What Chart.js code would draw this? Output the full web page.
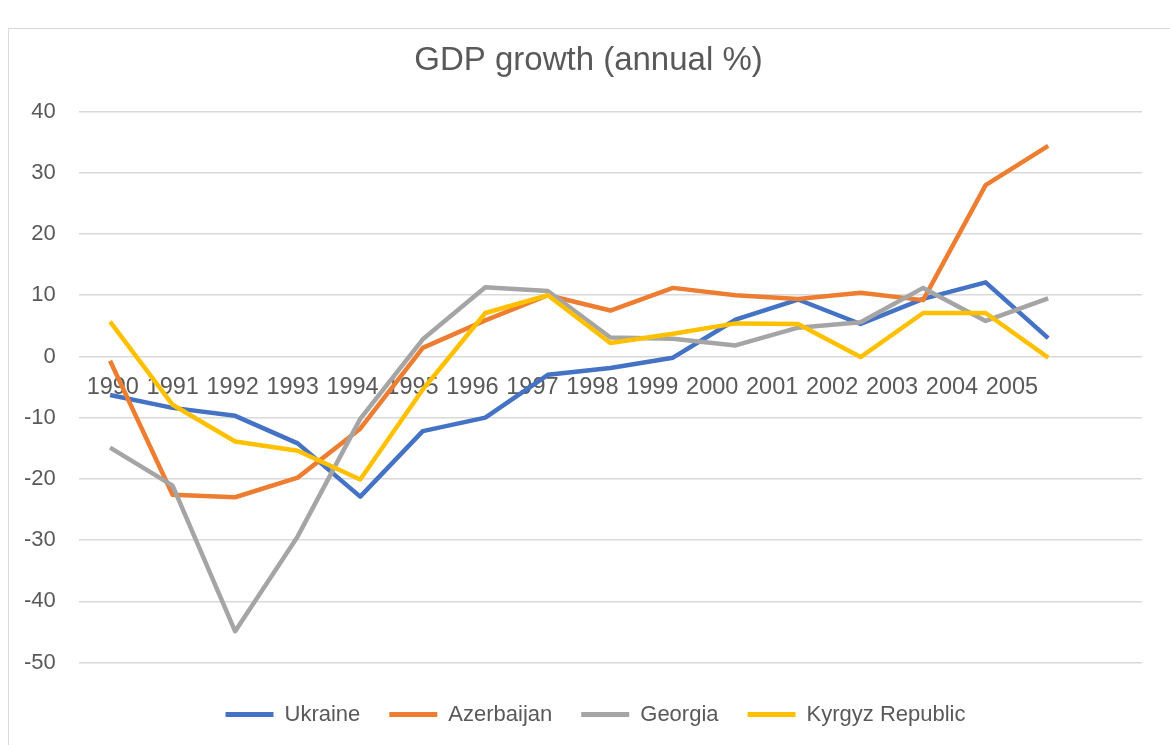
<!DOCTYPE html>
<html>
<head>
<meta charset="utf-8">
<script src="https://cdn.jsdelivr.net/npm/chart.js@4"></script>
<style>
    html, body { margin: 0; padding: 0; background: #fff; overflow: hidden; }
    #wrap { position: relative; width: 1170px; height: 745px; }
    #frame { position: absolute; left: 8px; top: 28px; width: 1200px; height: 800px; border: 1px solid #d9d9d9; }
    #chart { position: absolute; left: 0; top: 0; }
</style>
</head>
<body>
<div id="wrap">
    <div id="frame"></div>
    <canvas id="chart" width="1170" height="745"></canvas>
</div>
<script>
"use strict";

const years = ['1990', '1991', '1992', '1993', '1994', '1995', '1996', '1997',
    '1998', '1999', '2000', '2001', '2002', '2003', '2004', '2005'];
// the source chart keeps one blank category after 2005
const categories = [...years, ''];

const ukraine = [-6.3, -8.4, -9.7, -14.2, -22.9, -12.2, -10.0, -3.0, -1.9, -0.2, 6.0, 9.3, 5.3, 9.4, 12.1, 3.0];
const azerbaijan = [-0.7, -22.6, -23.0, -19.8, -11.8, 1.4, 5.9, 10.0, 7.5, 11.2, 10.0, 9.4, 10.4, 9.2, 28.0, 34.4];
const georgia = [-14.9, -21.1, -44.9, -29.4, -10.2, 2.8, 11.3, 10.7, 3.1, 2.9, 1.8, 4.7, 5.6, 11.2, 5.8, 9.5];
const kyrgyz = [5.7, -7.9, -13.9, -15.4, -20.1, -5.4, 7.1, 10.0, 2.2, 3.7, 5.4, 5.3, -0.1, 7.1, 7.1, -0.2];

const yTicks = [40, 30, 20, 10, 0, -10, -20, -30, -40, -50];

const textColor = '#595959';
const fontFamily = 'Liberation Sans, Arial, sans-serif';

const makeSeries = (label, data, color, order) => ({
    label: label,
    data: data,
    borderColor: color,
    backgroundColor: color,
    borderWidth: 4.5,
    pointRadius: 0,
    pointHoverRadius: 0,
    tension: 0,
    borderJoinStyle: 'round',
    order: order
});

/* the original centres its title and legend a bit right of the canvas middle */
const nudgeBlocks = {
    id: 'nudgeBlocks',
    afterLayout: (chart) => {
        if (chart.titleBlock) chart.titleBlock.left += 34;
        if (chart.legend) chart.legend.left += 48;
    }
};

const ctx = document.getElementById('chart').getContext('2d');
new Chart(ctx, {
    type: 'line',
    data: {
        labels: categories,
        datasets: [
            makeSeries('Ukraine', ukraine, '#4472C4', 3),
            makeSeries('Azerbaijan', azerbaijan, '#ED7D31', 2),
            makeSeries('Georgia', georgia, '#A5A5A5', 1),
            makeSeries('Kyrgyz Republic', kyrgyz, '#FFC000', 0)
        ]
    },
    plugins: [nudgeBlocks],
    options: {
        responsive: false,
        devicePixelRatio: 1,
        animation: false,
        layout: {
            padding: { top: 41, left: 1, right: 28, bottom: 9.5 }
        },
        plugins: {
            title: {
                display: true,
                text: 'GDP growth (annual %)',
                color: textColor,
                font: { family: fontFamily, size: 33, weight: 'normal' },
                padding: { top: 0, bottom: 31 }
            },
            legend: {
                position: 'bottom',
                labels: {
                    color: textColor,
                    font: { family: fontFamily, size: 22 },
                    boxWidth: 48,
                    boxHeight: 5,
                    padding: 29,
                    sort: (a, b) => a.datasetIndex - b.datasetIndex,
                    /* plain filled bars, no outline around the swatch */
                    generateLabels: (chart) => Chart.defaults.plugins.legend.labels.generateLabels(chart)
                        .map(item => Object.assign(item, { lineWidth: 0 }))
                }
            },
            tooltip: { enabled: false }
        },
        scales: {
            x: {
                type: 'category',
                offset: true,
                grid: { display: false },
                border: { display: false },
                ticks: { display: false },
                afterFit: (axis) => { axis.height = 12; }
            },
            /* year labels sit just under the zero line, spaced a little tighter than the data */
            years: {
                type: 'linear',
                axis: 'x',
                position: { y: 0 },
                min: -0.567,
                max: 17.17,
                grid: { display: false, drawTicks: false },
                border: { display: false },
                ticks: {
                    stepSize: 1,
                    autoSkip: false,
                    includeBounds: false,
                    maxRotation: 0,
                    minRotation: 0,
                    padding: 17,
                    color: textColor,
                    font: { family: fontFamily, size: 23.5 },
                    callback: (v) => (Number.isInteger(v) && years[v] !== undefined) ? years[v] : ''
                }
            },
            y: {
                min: -50,
                max: 40,
                afterBuildTicks: (axis) => { axis.ticks = yTicks.map(v => ({ value: v })); },
                grid: { color: '#d9d9d9', lineWidth: 1.5, drawTicks: false },
                border: { display: false },
                ticks: {
                    padding: 23,
                    color: textColor,
                    font: { family: fontFamily, size: 22 }
                }
            }
        }
    }
});
</script>
</body>
</html>
